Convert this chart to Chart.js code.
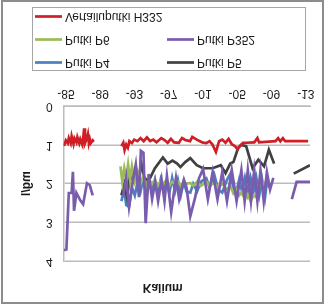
<!DOCTYPE html>
<html>
<head>
<meta charset="utf-8">
<script src="https://cdn.jsdelivr.net/npm/chart.js@4/dist/chart.umd.min.js"></script>
<style>
  html, body { margin: 0; padding: 0; background: #ffffff; }
  #wrap { width: 326px; height: 306px; }
  /* the reference picture is a vertically mirrored copy of the chart */
  #chart { transform: scaleY(-1); display: block; }
</style>
</head>
<body>
<div id="wrap"><canvas id="chart" width="326" height="306"></canvas></div>
<script>
// ---- data ----
const chartTitle = 'Kalium';
const yTitle = 'mg/l';
const xTickYears = [1985, 1989, 1993, 1997, 2001, 2005, 2009, 2013];
const xTickLabels = ['-85', '-89', '-93', '-97', '-01', '-05', '-09', '-13'];
const yTicks = [0, 1, 2, 3, 4];
const seriesNames = ['Putki P4', 'Putki P5', 'Putki P6', 'Putki P352', 'Vertailuputki H332'];

const p4Years = [1991.48,1991.82,1992.04,1992.37,1992.71,1993.04,1993.38,1993.71,1994.05,1994.39,1994.72,1995.06,1995.39,1995.73,1996.06,1996.40,1996.73,1997.07,1997.40,1997.74,1998.07,1998.41,1998.74,1999.08,1999.52,1999.86,2000.31,2000.75,2001.39,2001.76,2002.32,2002.77,2003.25,2003.80,2004.18,2004.55,2004.92,2005.22,2005.56,2005.89,2006.23,2006.56,2006.90,2007.23,2007.57,2007.90,2008.24,2008.46,2008.80];
const p4Values = [2.45,2.15,2.55,2.60,2.10,2.30,1.95,2.20,1.85,2.35,1.95,2.20,1.90,2.25,1.90,2.20,1.95,2.25,1.85,2.20,1.90,2.30,1.95,2.20,2.23,2.00,2.20,1.95,1.86,2.10,1.77,2.15,2.23,1.90,1.75,2.10,2.19,1.90,2.20,1.85,2.25,1.85,2.20,1.85,2.30,1.90,2.35,1.95,2.10];

const p5Years = [1991.48,1991.82,1992.15,1992.49,1992.82,1993.16,1993.49,1993.83,1994.16,1994.64,1995.39,1996.32,1996.88,1997.44,1997.99,1998.37,1998.93,1999.52,2000.27,2001.01,2002.13,2003.07,2003.63,2004.18,2004.55,2005.11,2005.45,2006.04,2006.79,2007.46,2008.13,2008.69,2009.30,2010.50,2011.59,2013.49];
const p5Values = [2.30,2.00,2.35,1.75,1.90,1.60,1.85,1.50,1.85,1.94,1.60,1.32,1.48,1.40,1.48,1.57,1.44,1.34,1.52,1.60,1.60,1.52,1.73,1.48,1.44,1.07,1.00,1.03,1.60,1.38,1.55,1.12,1.48,null,1.74,1.52];

const p6Years = [1991.37,1991.59,1991.82,1992.04,1992.26,1992.49,1992.71,1993.04,1993.38,1993.71,1994.05,1994.39,1994.72,1995.06,1995.39,1995.73,1996.06,1996.40,1996.73,1997.07,1997.40,1997.74,1998.07,1998.41,1998.74,1999.08,1999.52,1999.86,2000.31,2000.75,2001.39,2001.76,2002.32,2002.77,2003.25,2003.80,2004.18,2004.55,2004.92,2005.22,2005.56,2005.89,2006.23,2006.56,2006.90,2007.23,2007.57,2007.90,2008.24];
const p6Values = [1.55,1.95,1.60,1.85,1.50,1.90,1.55,1.95,1.70,2.00,1.80,2.05,1.90,2.00,1.90,2.05,1.95,2.00,1.90,2.05,1.95,2.00,1.95,2.05,1.95,2.00,1.98,2.05,1.95,2.06,1.95,2.05,1.98,2.10,2.00,2.15,2.05,2.25,2.15,2.30,2.20,2.40,2.28,2.45,2.30,2.35,2.00,2.05,1.95];

const p352Years = [1984.78,1985.06,1985.34,1985.67,1985.82,1985.95,1986.23,1986.68,1987.01,1987.46,1987.79,1988.13,1990.00,1991.70,1992.04,1992.37,1992.79,1993.16,1993.53,1993.75,1994.05,1994.31,1994.66,1995.06,1995.42,1995.76,1996.17,1996.51,1996.79,1997.29,1997.85,1998.22,1998.78,1999.08,1999.52,2000.08,2000.53,2001.01,2001.57,2002.13,2002.69,2003.25,2003.80,2004.36,2004.92,2005.48,2005.86,2006.23,2006.60,2006.98,2007.35,2007.71,2008.09,2008.46,2008.83,2009.21,2010.30,2011.37,2011.93,2013.49];
const p352Values = [3.72,3.70,2.24,2.24,1.69,2.70,2.24,2.43,2.53,1.99,2.04,2.30,null,2.30,1.85,2.60,1.95,1.50,2.35,1.15,1.20,3.02,1.75,2.40,1.95,2.45,1.90,2.45,1.80,2.73,1.85,2.40,1.90,2.10,2.84,2.36,1.86,1.62,2.40,1.70,2.40,1.70,2.45,1.65,2.45,1.65,2.45,1.65,2.45,1.65,2.45,1.65,2.45,1.70,2.15,1.85,null,2.40,1.95,1.95];

const h332Years = [1984.78,1985.00,1985.22,1985.34,1985.56,1985.67,1985.89,1986.01,1986.23,1986.34,1986.56,1986.68,1986.90,1987.01,1987.12,1987.23,1987.46,1987.57,1987.68,1987.79,1987.90,1988.13,1988.24,1989.80,1991.48,1991.70,1991.85,1992.04,1992.23,1992.41,1992.71,1992.97,1993.35,1993.71,1994.08,1994.46,1994.83,1995.20,1995.58,1996.14,1996.51,1996.88,1997.26,1997.63,1998.18,1998.55,1998.93,1999.49,1999.75,2000.27,2000.64,2001.01,2001.39,2001.76,2002.09,2002.51,2002.88,2003.25,2003.63,2003.99,2004.36,2004.74,2005.03,2005.30,2005.67,2006.04,2006.98,2007.35,2007.54,2009.47,2009.77,2010.03,2010.33,2010.59,2013.27];
const h332Values = [1.02,0.88,0.95,0.82,0.95,0.77,0.97,0.83,0.93,0.80,0.95,0.85,0.98,0.84,0.60,0.95,0.82,0.72,0.95,0.85,0.95,0.88,0.92,null,1.03,0.94,1.13,0.99,1.07,0.90,0.95,0.86,0.90,0.82,0.90,0.80,0.90,0.86,0.93,0.82,0.87,0.94,0.84,0.93,0.94,0.82,0.87,0.90,0.79,0.86,0.90,0.94,0.95,0.90,0.98,1.18,0.90,0.86,0.94,0.84,0.98,1.03,1.11,1.03,0.94,0.94,0.93,0.82,0.93,0.90,0.82,0.90,0.82,0.90,0.90];

// ---- styles ----
const colors = ['#4a7fc0', '#404040', '#9bbb59', '#7a5cae', '#d01e26'];
const drawOrder = [4, 3, 2, 1, 0]; // lower = drawn on top
const FONT = "'Liberation Sans', Arial, sans-serif";
const TEXT = '#1a1a1a';
const GRID = '#bcbcbc';

function pts(xs, ys) { return xs.map((x, i) => ({ x: x, y: ys[i] })); }
const allYears = [p4Years, p5Years, p6Years, p352Years, h332Years];
const allValues = [p4Values, p5Values, p6Values, p352Values, h332Values];

const datasets = seriesNames.map((name, i) => ({
  label: name,
  data: pts(allYears[i], allValues[i]),
  borderColor: colors[i],
  backgroundColor: colors[i],
  borderWidth: 2.7,
  pointRadius: 0,
  tension: 0,
  spanGaps: false,
  order: drawOrder[i]
}));

const legendAndFrame = {
  id: 'legendAndFrame',
  afterDraw(chart) {
    const ctx = chart.ctx;
    ctx.save();
    // legend frame
    ctx.strokeStyle = '#a6a6a6';
    ctx.lineWidth = 1;
    ctx.strokeRect(32.5, 235.5, 273, 63);
    ctx.font = '12px ' + FONT;
    ctx.textBaseline = 'middle';
    ctx.textAlign = 'left';
    const colX = [35, 167];
    chart.data.datasets.forEach((ds, i) => {
      const row = Math.floor(i / 2), col = i % 2;
      const y = 243.5 + row * 23;
      const x = colX[col];
      ctx.strokeStyle = ds.borderColor;
      ctx.lineWidth = 2.7;
      ctx.beginPath();
      ctx.moveTo(x, y);
      ctx.lineTo(x + 27, y);
      ctx.stroke();
      ctx.fillStyle = TEXT;
      ctx.fillText(ds.label, x + 30, y + 0.5);
    });
    // outer frame
    ctx.strokeStyle = '#8c8c8c';
    ctx.lineWidth = 2;
    ctx.strokeRect(2, 3, 321, 302);
    ctx.restore();
  }
};

new Chart(document.getElementById('chart'), {
  type: 'line',
  data: { datasets: datasets },
  options: {
    responsive: false,
    animation: false,
    events: [],
    layout: { padding: { left: 15.5, right: 16, top: 3, bottom: 80 } },
    plugins: {
      legend: { display: false },
      tooltip: { enabled: false },
      title: {
        display: true,
        text: chartTitle,
        color: TEXT,
        font: { family: FONT, size: 12, weight: 'bold' },
        padding: { top: 8, bottom: 19.6 }
      }
    },
    scales: {
      x: {
        type: 'linear',
        min: 1984.73,
        max: 2013.49,
        afterBuildTicks(scale) { scale.ticks = xTickYears.map(v => ({ value: v })); },
        ticks: {
          autoSkip: false,
          maxRotation: 0,
          padding: 6,
          color: TEXT,
          font: { family: FONT, size: 12 },
          callback(v) { const k = xTickYears.indexOf(v); return k >= 0 ? xTickLabels[k] : ''; }
        },
        grid: { display: false, drawTicks: false },
        border: { display: true, color: GRID, width: 1.5 }
      },
      y: {
        min: 0,
        max: 4,
        afterBuildTicks(scale) { scale.ticks = yTicks.map(v => ({ value: v })); },
        ticks: {
          padding: 11,
          color: TEXT,
          font: { family: FONT, size: 12 }
        },
        grid: { color: GRID, lineWidth: 1.5, drawTicks: false },
        border: { display: true, color: GRID, width: 1.5 },
        title: {
          display: true,
          text: yTitle,
          color: TEXT,
          font: { family: FONT, size: 12, weight: 'bold' },
          padding: { top: 4, bottom: 1 }
        }
      }
    }
  },
  plugins: [legendAndFrame]
});
</script>
</body>
</html>
